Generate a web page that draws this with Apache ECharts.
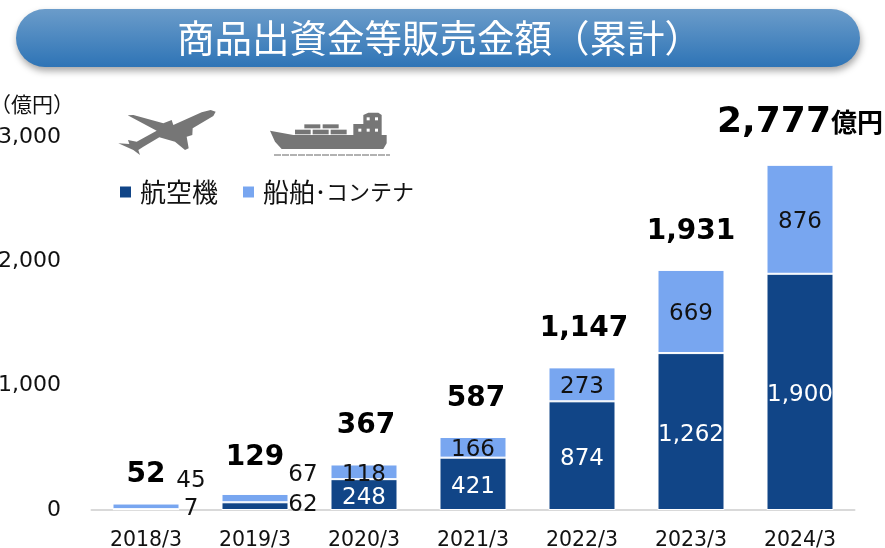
<!DOCTYPE html>
<html><head><meta charset="utf-8">
<style>html,body{margin:0;padding:0;background:#fff}#c{width:885px;height:548px}</style>
<script src="https://cdn.jsdelivr.net/npm/echarts@6/dist/echarts.min.js"></script>
</head><body><div id="c"></div>
<script>
const categories = ['2018/3','2019/3','2020/3','2021/3','2022/3','2023/3','2024/3'];
const aircraft = [7,62,248,421,874,1262,1900];
const shipping = [45,67,118,166,273,669,876];
const totals = [52,129,367,587,1147,1931,2777];
const yTicks = [0,1000,2000,3000];

const DARK='#114587', LIGHT='#78a6f0', TXT='#111';
const JP='"Noto Sans CJK JP"', LAT='"DejaVu Sans"';
const fmt=v=>Number(v).toLocaleString('en-US');
const darkOffsets={0:[45,-1],1:[48,-1]};
const lightOffsets={0:[45,-25],1:[48,-23]};
const totalOffsets={0:[0,10],1:[0,2],2:[2,0],3:[3,0],4:[2,0]};
const scale3=p=>p.map(([x,y])=>[x/3,y/3]);
const GREY='#767676';

const plane=[[647,335],[640,348],[578,385],[577,405],[560,410],[566,445],[555,450],[525,425],[478,412],[430,440],[415,450],[420,465],[400,450],[355,430],[388,432],[384,420],[410,425],[470,392],[383,346],[400,345],[490,370],[515,360],[520,375],[605,337],[632,330]];
const hull=[[810,392],[880,405],[1060,405],[1060,372],[1090,372],[1090,345],[1105,338],[1135,338],[1145,345],[1145,405],[1160,405],[1160,430],[1150,447],[845,447],[825,425]];
const boxes=[[885,389,47,14],[938,389,48,14],[992,389,48,14],[913,373,48,12],[968,373,48,12]];
const windows=[[1100,352],[1125,352],[1075,386],[1100,386],[1125,386]];
const graphics=[
 {type:'rect',z:10,shape:{x:16,y:9,width:844,height:58,r:29},style:{
  fill:new echarts.graphic.LinearGradient(0,0,0,1,[{offset:0,color:'#6b9cca'},{offset:1,color:'#2e74b6'}]),
  shadowBlur:7,shadowOffsetY:4,shadowOffsetX:1,shadowColor:'rgba(0,0,0,0.35)'}},
 {type:'text',z:11,x:177,y:38,style:{text:'商品出資金等販売金額（累計）',fill:'#fff',font:'37.5px '+JP,textVerticalAlign:'middle'}},
 {type:'text',z:11,x:74,y:104,style:{text:'（億円）',fill:TXT,font:'21px '+JP,textAlign:'right',textVerticalAlign:'middle'}},
 {type:'polygon',z:5,shape:{points:scale3(plane)},style:{fill:GREY}},
 {type:'polygon',z:5,shape:{points:scale3(hull)},style:{fill:GREY}},
 ...boxes.map(b=>({type:'rect',z:5,shape:{x:b[0]/3,y:b[1]/3,width:b[2]/3,height:b[3]/3},style:{fill:GREY}})),
 ...windows.map(w=>({type:'rect',z:6,shape:{x:w[0]/3,y:w[1]/3,width:3,height:3},style:{fill:'#fff'}})),
 {type:'line',z:5,shape:{x1:274,y1:155,x2:390,y2:155},style:{stroke:'#999',lineWidth:1.5,lineDash:[7,1]}}
];
const stackLabel=(vals,offs)=>vals.map((v,i)=>{
  const o={value:v,label:{offset:[0,3]}};
  if(offs[i]){o.label.offset=offs[i];o.label.color=TXT;}
  return o;
});
const chart=echarts.init(document.getElementById('c'),null,{renderer:'canvas'});
chart.setOption({
 animation:false,backgroundColor:'#fff',
 graphic:graphics,
 legend:{data:['航空機','船舶･コンテナ'],left:118,top:179,padding:0,itemWidth:13,itemHeight:13,itemGap:23,icon:'rect',
   formatter:n=>n==='航空機'?'{k|航空機}':'{k|船舶}{s|･コンテナ}',
   textStyle:{color:TXT,padding:[0,0,0,3],rich:{k:{fontFamily:JP,fontSize:26,color:TXT},s:{fontFamily:JP,fontSize:22,color:TXT}}}},
 grid:{left:91.5,right:30.5,top:137,bottom:38,outerBoundsMode:'none'},
 xAxis:{type:'category',data:categories,axisTick:{show:false},axisLine:{lineStyle:{color:'#d9d9d9',width:2}},
   axisLabel:{fontFamily:LAT,fontSize:20.5,color:TXT,margin:20}},
 yAxis:{type:'value',min:yTicks[0],max:yTicks[3],interval:1000,splitLine:{show:false},axisLine:{show:false},axisTick:{show:false},
   axisLabel:{fontFamily:LAT,fontSize:22,color:TXT,margin:30.5,padding:[3,0,0,0],formatter:fmt}},
 series:[
  {name:'航空機',type:'bar',stack:'a',barWidth:67,data:stackLabel(aircraft,darkOffsets),
   itemStyle:{color:DARK,borderColor:'#fff',borderWidth:1},
   label:{show:true,position:'inside',color:'#fff',fontFamily:LAT,fontSize:23,formatter:p=>fmt(p.value)}},
  {name:'船舶･コンテナ',type:'bar',stack:'a',barWidth:67,data:stackLabel(shipping,lightOffsets),
   itemStyle:{color:LIGHT,borderColor:'#fff',borderWidth:1},
   label:{show:true,position:'inside',color:TXT,fontFamily:LAT,fontSize:23,formatter:p=>fmt(p.value)}},
  {name:'合計',type:'scatter',symbolSize:1,itemStyle:{color:'rgba(0,0,0,0)',opacity:1},z:8,data:totals.map((v,i)=>{
    const last=i===totals.length-1;
    const lab={offset:totalOffsets[i]||[0,0]};
    if(last) lab.formatter=p=>'{big|'+fmt(p.value[1])+'}{u|億円}';
    return {value:[categories[i],v],label:lab};
   }),
   label:{show:true,position:'top',distance:24,color:'#000',fontFamily:LAT,fontWeight:'bold',fontSize:28,
     formatter:p=>fmt(p.value[1]),
     rich:{big:{fontFamily:LAT,fontWeight:'bold',fontSize:36,color:'#000'},u:{fontFamily:JP,fontWeight:'bold',fontSize:26,color:'#000'}}}}
 ]
});
</script></body></html>
